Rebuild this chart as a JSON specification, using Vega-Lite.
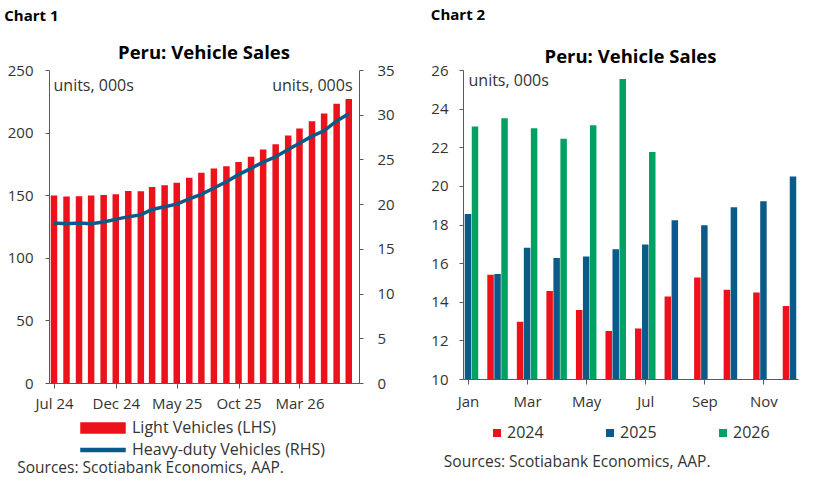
{
  "$schema": "https://vega.github.io/schema/vega-lite/v6.json",
  "padding": {"left": 4, "top": 7, "right": 20, "bottom": 3},
  "spacing": 35,
  "resolve": {"scale": {"color": "independent"}, "legend": {"color": "independent"}},
  "config": {
    "font": "Open Sans",
    "view": {"stroke": null},
    "axis": {
      "grid": false,
      "domainColor": "#595959",
      "tickColor": "#595959",
      "labelColor": "#333333",
      "labelFontSize": 15,
      "titleColor": "#333333",
      "titleFontSize": 16,
      "titleFontWeight": "normal"
    },
    "legend": {"labelColor": "#333333", "labelFontSize": 16, "title": null, "labelLimit": 400}
  },
  "hconcat": [
    {
      "title": {"text": "Chart 1", "anchor": "start", "fontSize": 15, "fontWeight": "bold", "color": "#000000", "dx": -3, "offset": 20},
      "resolve": {"scale": {"color": "independent"}, "legend": {"color": "independent"}},
      "vconcat": [
        {
          "title": {"text": "Sources: Scotiabank Economics, AAP.", "orient": "bottom", "anchor": "start", "fontSize": 15.5, "fontWeight": "normal", "color": "#333333", "offset": 3, "dx": 10},
          "resolve": {"scale": {"color": "independent"}, "legend": {"color": "independent"}},
          "vconcat": [
            {
              "title": {"text": "Peru: Vehicle Sales", "anchor": "middle", "frame": "group", "fontSize": 18.5, "fontWeight": "bold", "color": "#000000", "offset": 1},
              "width": 310,
              "height": 313,
              "data": {
                "values": [
                  {"date": "2024-07-01", "light": 149.7, "heavy": 17.9},
                  {"date": "2024-08-01", "light": 148.9, "heavy": 17.8},
                  {"date": "2024-09-01", "light": 149.2, "heavy": 17.9},
                  {"date": "2024-10-01", "light": 149.7, "heavy": 17.8},
                  {"date": "2024-11-01", "light": 150.2, "heavy": 18.0},
                  {"date": "2024-12-01", "light": 150.7, "heavy": 18.3},
                  {"date": "2025-01-01", "light": 153.4, "heavy": 18.6},
                  {"date": "2025-02-01", "light": 153.1, "heavy": 18.8},
                  {"date": "2025-03-01", "light": 156.5, "heavy": 19.4},
                  {"date": "2025-04-01", "light": 157.9, "heavy": 19.7},
                  {"date": "2025-05-01", "light": 160.0, "heavy": 20.0},
                  {"date": "2025-06-01", "light": 163.9, "heavy": 20.6},
                  {"date": "2025-07-01", "light": 167.9, "heavy": 21.1},
                  {"date": "2025-08-01", "light": 171.3, "heavy": 21.8},
                  {"date": "2025-09-01", "light": 173.2, "heavy": 22.5},
                  {"date": "2025-10-01", "light": 176.6, "heavy": 23.3},
                  {"date": "2025-11-01", "light": 180.8, "heavy": 24.0},
                  {"date": "2025-12-01", "light": 186.6, "heavy": 24.7},
                  {"date": "2026-01-01", "light": 190.6, "heavy": 25.3},
                  {"date": "2026-02-01", "light": 197.7, "heavy": 26.1},
                  {"date": "2026-03-01", "light": 203.3, "heavy": 26.8},
                  {"date": "2026-04-01", "light": 209.1, "heavy": 27.6},
                  {"date": "2026-05-01", "light": 215.2, "heavy": 28.2},
                  {"date": "2026-06-01", "light": 223.1, "heavy": 29.3},
                  {"date": "2026-07-01", "light": 226.8, "heavy": 30.1}
                ]
              },
              "encoding": {
                "x": {
                  "field": "date",
                  "type": "temporal",
                  "scale": {
                    "type": "utc",
                    "domain": [
                      {"year": 2024, "month": 7, "date": 1, "utc": true},
                      {"year": 2026, "month": 7, "date": 14, "utc": true}
                    ]
                  },
                  "axis": {
                    "title": null,
                    "format": "%b %y",
                    "values": [
                      {"year": 2024, "month": 7, "date": 1, "utc": true},
                      {"year": 2024, "month": 12, "date": 1, "utc": true},
                      {"year": 2025, "month": 5, "date": 1, "utc": true},
                      {"year": 2025, "month": 10, "date": 1, "utc": true},
                      {"year": 2026, "month": 3, "date": 1, "utc": true}
                    ],
                    "tickSize": 5,
                    "labelPadding": 8,
                    "labelFlush": false
                  }
                }
              },
              "layer": [
                {
                  "mark": {"type": "bar", "width": 6.5, "clip": true},
                  "encoding": {
                    "y": {
                      "field": "light",
                      "type": "quantitative",
                      "scale": {"domain": [0, 250], "nice": false},
                      "axis": {
                        "values": [0, 50, 100, 150, 200, 250],
                        "title": "units, 000s",
                        "titleAngle": 0,
                        "titleAlign": "left",
                        "titleBaseline": "top",
                        "titleX": 4,
                        "titleY": 7,
                        "tickSize": 4,
                        "labelPadding": 12
                      }
                    },
                    "color": {
                      "datum": "Light Vehicles (LHS)",
                      "scale": {
                        "domain": ["Light Vehicles (LHS)", "Heavy-duty Vehicles (RHS)"],
                        "range": ["#ec111a", "#0b5a87"]
                      },
                      "legend": {
                        "orient": "none",
                        "legendX": 43,
                        "legendY": 347,
                        "direction": "vertical",
                        "rowPadding": 3,
                        "symbolSize": 400,
                        "labelOffset": 18,
                        "encode": {
                          "symbols": {
                            "update": {
                              "shape": {"signal": "datum.value === 'Light Vehicles (LHS)' ? 'M-2.2,-0.5H2.2V0.5H-2.2Z' : 'M-2.2,-0.16H2.2V0.16H-2.2Z'"},
                              "fill": {"signal": "datum.value === 'Light Vehicles (LHS)' ? '#ec111a' : '#0b5a87'"},
                              "stroke": {"value": "transparent"},
                              "opacity": {"value": 1},
                              "fillOpacity": {"value": 1}
                            }
                          }
                        }
                      }
                    }
                  }
                },
                {
                  "mark": {"type": "line", "strokeWidth": 3.5, "clip": true},
                  "encoding": {
                    "y": {
                      "field": "heavy",
                      "type": "quantitative",
                      "scale": {"domain": [0, 35], "nice": false},
                      "axis": {
                        "orient": "right",
                        "values": [0, 5, 10, 15, 20, 25, 30, 35],
                        "title": "units, 000s",
                        "titleAngle": 0,
                        "titleAlign": "right",
                        "titleBaseline": "top",
                        "titleX": -7,
                        "titleY": 7,
                        "tickSize": 4,
                        "labelPadding": 14
                      }
                    },
                    "color": {"datum": "Heavy-duty Vehicles (RHS)"}
                  }
                }
              ],
              "resolve": {"scale": {"y": "independent"}}
            }
          ]
        }
      ]
    },
    {
      "title": {"text": "Chart 2", "anchor": "start", "fontSize": 15, "fontWeight": "bold", "color": "#000000", "dx": 0, "offset": 25},
      "resolve": {"scale": {"color": "independent"}, "legend": {"color": "independent"}},
      "vconcat": [
        {
          "title": {"text": "Sources: Scotiabank Economics, AAP.", "orient": "bottom", "anchor": "start", "fontSize": 15.5, "fontWeight": "normal", "color": "#333333", "offset": 14, "dx": 13},
          "resolve": {"scale": {"color": "independent"}, "legend": {"color": "independent"}},
          "vconcat": [
            {
              "title": {"text": "Peru: Vehicle Sales", "anchor": "middle", "frame": "group", "fontSize": 18.5, "fontWeight": "bold", "color": "#000000", "offset": -3},
              "width": 335,
              "height": 309,
              "data": {
                "values": [
                  {"month": 2, "year": "2024", "sales": 15.4},
                  {"month": 3, "year": "2024", "sales": 12.96},
                  {"month": 4, "year": "2024", "sales": 14.56},
                  {"month": 5, "year": "2024", "sales": 13.57},
                  {"month": 6, "year": "2024", "sales": 12.49},
                  {"month": 7, "year": "2024", "sales": 12.61},
                  {"month": 8, "year": "2024", "sales": 14.27},
                  {"month": 9, "year": "2024", "sales": 15.26},
                  {"month": 10, "year": "2024", "sales": 14.62},
                  {"month": 11, "year": "2024", "sales": 14.48},
                  {"month": 12, "year": "2024", "sales": 13.78},
                  {"month": 1, "year": "2025", "sales": 18.54},
                  {"month": 2, "year": "2025", "sales": 15.44},
                  {"month": 3, "year": "2025", "sales": 16.79},
                  {"month": 4, "year": "2025", "sales": 16.27},
                  {"month": 5, "year": "2025", "sales": 16.34},
                  {"month": 6, "year": "2025", "sales": 16.72},
                  {"month": 7, "year": "2025", "sales": 16.97},
                  {"month": 8, "year": "2025", "sales": 18.22},
                  {"month": 9, "year": "2025", "sales": 17.96},
                  {"month": 10, "year": "2025", "sales": 18.89},
                  {"month": 11, "year": "2025", "sales": 19.2},
                  {"month": 12, "year": "2025", "sales": 20.49},
                  {"month": 1, "year": "2026", "sales": 23.07},
                  {"month": 2, "year": "2026", "sales": 23.5},
                  {"month": 3, "year": "2026", "sales": 22.98},
                  {"month": 4, "year": "2026", "sales": 22.44},
                  {"month": 5, "year": "2026", "sales": 23.14},
                  {"month": 6, "year": "2026", "sales": 25.54},
                  {"month": 7, "year": "2026", "sales": 21.76}
                ]
              },
              "encoding": {
                "x": {
                  "field": "month",
                  "type": "quantitative",
                  "scale": {"domain": [1, 12], "nice": false, "zero": false},
                  "axis": {
                    "title": null,
                    "values": [1, 3, 5, 7, 9, 11],
                    "labelExpr": "['Jan','Feb','Mar','Apr','May','Jun','Jul','Aug','Sep','Oct','Nov','Dec'][datum.value - 1]",
                    "tickSize": 5,
                    "labelPadding": 10,
                    "labelFlush": false
                  }
                },
                "y": {
                  "field": "sales",
                  "type": "quantitative",
                  "scale": {"domain": [10, 26], "nice": false, "zero": false},
                  "axis": {
                    "values": [10, 12, 14, 16, 18, 20, 22, 24, 26],
                    "title": "units, 000s",
                    "titleAngle": 0,
                    "titleAlign": "left",
                    "titleBaseline": "top",
                    "titleX": 5,
                    "titleY": 2,
                    "tickSize": 4,
                    "labelPadding": 11
                  }
                },
                "color": {
                  "field": "year",
                  "type": "nominal",
                  "scale": {"domain": ["2024", "2025", "2026"], "range": ["#ec111a", "#0b5a87", "#00a264"]},
                  "legend": {
                    "orient": "none",
                    "legendX": 26,
                    "legendY": 355,
                    "direction": "horizontal",
                    "symbolType": "square",
                    "symbolSize": 64,
                    "symbolOpacity": 1,
                    "columnPadding": 58,
                    "labelOffset": 2
                  }
                }
              },
              "layer": [
                {
                  "transform": [{"filter": "datum.year === '2024'"}],
                  "mark": {"type": "bar", "width": 6.5, "xOffset": -7, "clip": true}
                },
                {
                  "transform": [{"filter": "datum.year === '2025'"}],
                  "mark": {"type": "bar", "width": 6.5, "xOffset": 0, "clip": true}
                },
                {
                  "transform": [{"filter": "datum.year === '2026'"}],
                  "mark": {"type": "bar", "width": 6.5, "xOffset": 7, "clip": true}
                }
              ]
            }
          ]
        }
      ]
    }
  ]
}
